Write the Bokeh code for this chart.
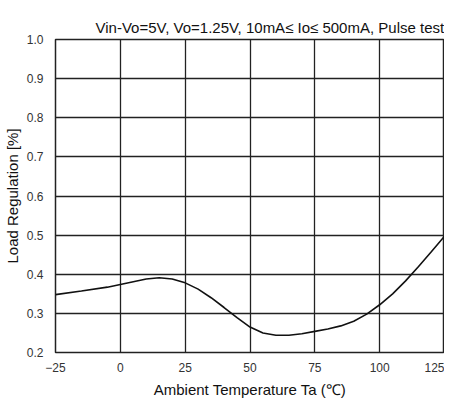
from bokeh.plotting import figure
from bokeh.models import Range1d, FixedTicker, Title, CustomJSTickFormatter
from bokeh.embed import file_html
from bokeh.resources import INLINE

temps = [-25, -15, -5, 0, 5, 10, 15, 20, 25, 30, 35, 40, 45, 50, 55, 60, 65, 70, 75,
         80, 85, 90, 95, 100, 105, 110, 115, 120, 125]
load_reg = [0.348, 0.357, 0.367, 0.374, 0.381, 0.388, 0.391, 0.388, 0.378, 0.362, 0.340,
            0.315, 0.289, 0.265, 0.250, 0.244, 0.244, 0.248, 0.254, 0.260, 0.268, 0.280,
            0.298, 0.322, 0.350, 0.383, 0.420, 0.458, 0.497]
x_ticks = [-25, 0, 25, 50, 75, 100, 125]
y_ticks = [0.2, 0.3, 0.4, 0.5, 0.6, 0.7, 0.8, 0.9, 1.0]
title_text = "Vin-Vo=5V, Vo=1.25V, 10mA\u2264  Io\u2264  500mA, Pulse test"

FONT = "Liberation Sans"

p = figure(frame_width=389, frame_height=313, output_backend="svg", toolbar_location=None,
           x_range=Range1d(-25, 125), y_range=Range1d(0.2, 1.0),
           min_border_left=48, min_border_right=0, min_border_top=39, min_border_bottom=39)

t = Title(text=title_text, align="right", text_font=FONT, text_font_size="15px",
          text_font_style="normal", text_color="#111111", offset=-8, standoff=8)
p.add_layout(t, "above")

p.line(temps, load_reg, line_color="#111111", line_width=1.6)

for ax in (p.xaxis[0], p.yaxis[0]):
    ax.major_tick_line_color = None
    ax.minor_tick_line_color = None
    ax.axis_line_color = None
    ax.major_label_text_font = FONT
    ax.major_label_text_font_size = "12px"
    ax.major_label_text_color = "#333333"
    ax.axis_label_text_font = FONT
    ax.axis_label_text_font_size = "15px"
    ax.axis_label_text_font_style = "normal"
    ax.axis_label_text_color = "#111111"

p.xaxis.ticker = FixedTicker(ticks=x_ticks)
p.yaxis.ticker = FixedTicker(ticks=y_ticks)
p.yaxis.formatter = CustomJSTickFormatter(code="return tick.toFixed(1);")
p.xaxis.axis_label = "Ambient Temperature Ta (\u2103)"
p.yaxis.axis_label = "Load Regulation [%]"
p.xaxis.major_label_standoff = 4
p.yaxis.major_label_standoff = 6
p.xaxis.axis_label_standoff = 6
p.yaxis.axis_label_standoff = 3

p.xgrid.grid_line_color = "#222222"
p.ygrid.grid_line_color = "#222222"
p.xgrid.grid_line_width = 1.3
p.ygrid.grid_line_width = 1.3

p.outline_line_color = "#222222"
p.outline_line_width = 1.5
p.background_fill_color = "white"
p.border_fill_color = "white"

open("out.html", "w").write(file_html(p, INLINE))
